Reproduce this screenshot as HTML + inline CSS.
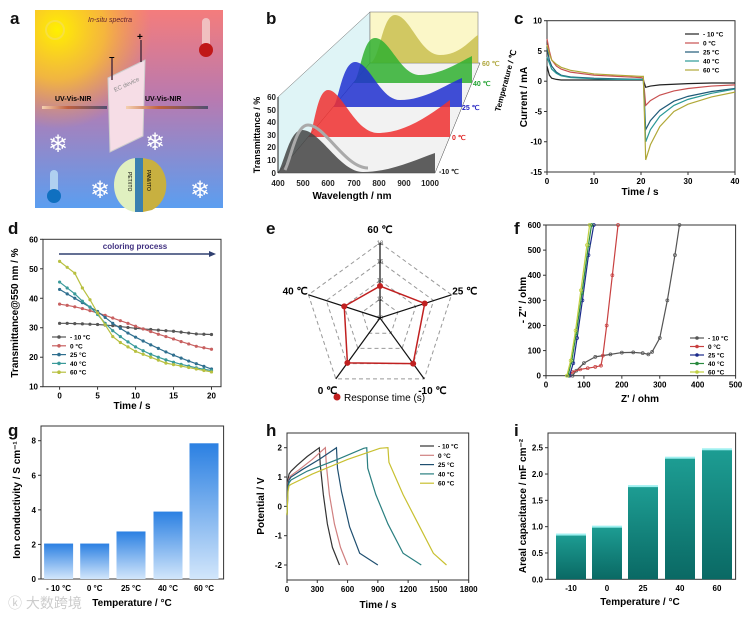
<!DOCTYPE html>
<html><head><meta charset="utf-8"><style>
html,body{margin:0;padding:0;background:#fff}
svg{display:block;font-family:"Liberation Sans",Arial,sans-serif}
</style></head><body>
<svg id="fig" width="750" height="618" viewBox="0 0 750 618" xmlns="http://www.w3.org/2000/svg">
<defs>
<linearGradient id="bgA" x1="0" y1="0" x2="0" y2="1"><stop offset="0" stop-color="#f47c7c"/><stop offset="0.45" stop-color="#b87ab0"/><stop offset="1" stop-color="#5b9ef0"/></linearGradient>
<radialGradient id="sun" cx="0.12" cy="0.1" r="0.5"><stop offset="0" stop-color="#fff000"/><stop offset="0.5" stop-color="#f8c030" stop-opacity="0.85"/><stop offset="1" stop-color="#f8a040" stop-opacity="0"/></radialGradient>
<linearGradient id="beam" x1="0" x2="1"><stop offset="0" stop-color="#f5d0b0"/><stop offset="0.4" stop-color="#c06040"/><stop offset="1" stop-color="#505070"/></linearGradient>
<linearGradient id="barG" x1="0" y1="0" x2="0" y2="1"><stop offset="0" stop-color="#2b80e2"/><stop offset="1" stop-color="#d2e6fb"/></linearGradient>
<linearGradient id="barI" x1="0" y1="0" x2="0" y2="1"><stop offset="0" stop-color="#1d9d93"/><stop offset="1" stop-color="#0a6964"/></linearGradient>
</defs>

<g font-weight="bold" font-size="17" fill="#111">
<text x="10" y="24">a</text>
<text x="266" y="24">b</text>
<text x="514" y="24">c</text>
<text x="8" y="234">d</text>
<text x="266" y="234">e</text>
<text x="514" y="234">f</text>
<text x="8" y="436">g</text>
<text x="266" y="436">h</text>
<text x="514" y="436">i</text>
</g>

<g>
<rect x="35" y="10" width="188" height="198" fill="url(#bgA)"/>
<rect x="35" y="10" width="188" height="198" fill="url(#sun)"/>
<g stroke="#f8e040" stroke-width="2" fill="none"><circle cx="55" cy="30" r="9"/></g>
<text x="88" y="22" font-size="7" font-style="italic" fill="#602030">In-situ spectra</text>
<rect x="202" y="18" width="8" height="30" rx="4" fill="#f0c0c0"/><circle cx="206" cy="50" r="7" fill="#c01818"/>
<rect x="50" y="170" width="8" height="25" rx="4" fill="#b0d0f0"/><circle cx="54" cy="196" r="7" fill="#1070c0"/>
<polygon points="108,78 145,60 143,136 110,152" fill="#f6dde6" stroke="#ccc"/>
<line x1="112" y1="58" x2="112" y2="80" stroke="#503040" stroke-width="1.5"/>
<line x1="141" y1="40" x2="141" y2="62" stroke="#503040" stroke-width="1.5"/>
<text x="109" y="60" font-size="10" font-weight="bold">–</text><text x="137" y="40" font-size="10" font-weight="bold">+</text>
<text x="115" y="92" font-size="6" fill="#888" transform="rotate(-25 115 92)">EC device</text>
<rect x="42" y="106" width="65" height="3" fill="url(#beam)"/><rect x="126" y="106" width="82" height="3" fill="url(#beam)"/>
<text x="55" y="101" font-size="7" font-weight="bold">UV-Vis-NIR</text><text x="145" y="101" font-size="7" font-weight="bold">UV-Vis-NIR</text>
<g font-size="24" fill="#fff"><text x="48" y="152">❄</text><text x="145" y="150">❄</text><text x="90" y="198">❄</text><text x="190" y="198">❄</text></g>
<ellipse cx="137" cy="185" rx="23" ry="27" fill="#e0f0c0"/>
<rect x="135" y="158" width="8" height="54" fill="#3a80b0"/><path d="M143,158 L152,160 A23,27 0 0 1 152,210 L143,212Z" fill="#c8b040"/>
<text x="128" y="172" font-size="5" transform="rotate(90 128 172)">PET/ITO</text><text x="147" y="170" font-size="5" transform="rotate(90 147 170)">PANI/ITO</text>
</g>

<g>
<polygon points="278,173 278,97 370,12 370,63" fill="#dff4f6" stroke="#666" stroke-width="0.5"/>
<rect x="370" y="12" width="108" height="51" fill="#fbf7c8" stroke="#666" stroke-width="0.5"/>
<polygon points="278,173 435,173 480,63 370,63" fill="#f2f2f2" stroke="#444" stroke-width="0.5"/>
<path d="M370,63 C380,60 382,15 395,15 C410,15 420,55 440,55 C460,55 470,40 478,35 L478,63Z" fill="#c9c050" opacity="0.85"/>
<path d="M353,83 C360,80 362,38 375,38 C390,38 400,75 420,75 C440,75 460,62 472,56 L472,83Z" fill="#30b030" opacity="0.85"/>
<path d="M333,107 C338,105 342,62 355,62 C370,62 380,100 400,100 C425,100 445,85 462,78 L462,107Z" fill="#2030d0" opacity="0.85"/>
<path d="M308,137 C314,135 316,90 328,90 C342,90 355,133 378,133 C405,133 430,115 450,100 L450,137Z" fill="#f03030" opacity="0.85"/>
<path d="M278,173 C285,160 290,130 302,130 C320,130 340,172 363,172 C390,172 415,160 435,153 L435,173Z" fill="#444" opacity="0.85"/>
<path d="M285,170 C292,155 296,125 308,125 C325,125 345,168 368,168" fill="none" stroke="#aaa" stroke-width="3"/>
<line x1="278" y1="97" x2="278" y2="173" stroke="#222"/>
<g font-size="8" font-weight="bold" text-anchor="end" fill="#222">
<text x="276" y="100">60</text><text x="276" y="113">50</text><text x="276" y="125">40</text><text x="276" y="138">30</text><text x="276" y="150">20</text><text x="276" y="163">10</text><text x="276" y="176">0</text></g>
<g font-size="8" font-weight="bold" text-anchor="middle" fill="#222">
<text x="278" y="186">400</text><text x="303" y="186">500</text><text x="328" y="186">600</text><text x="354" y="186">700</text><text x="379" y="186">800</text><text x="404" y="186">900</text><text x="430" y="186">1000</text></g>
<text x="352" y="199" font-size="10" font-weight="bold" text-anchor="middle">Wavelength / nm</text>
<text x="260" y="135" font-size="9" font-weight="bold" text-anchor="middle" transform="rotate(-90 260 135)">Transmittance / %</text>
<g font-size="7" font-weight="bold"><text x="439" y="174" fill="#222">-10 ℃</text><text x="452" y="140" fill="#e02020">0 ℃</text><text x="462" y="110" fill="#2020c0">25 ℃</text><text x="473" y="86" fill="#20a030">40 ℃</text><text x="482" y="66" fill="#b0a840">60 ℃</text></g>
<text x="500" y="112" font-size="8" font-weight="bold" transform="rotate(-75 500 112)">Temperature / ℃</text>
</g>

<g id="pc"></g>
<g id="pd"></g>
<g id="pe"></g>
<g id="pf"></g>
<g id="pg"></g>
<g id="ph"></g>
<g id="pi"></g>
<text x="8" y="608" font-size="14" fill="#ccc" font-family="'Liberation Sans','Noto Sans CJK SC',sans-serif">ⓚ 大数跨境</text>
</svg>
<script>
const NS='http://www.w3.org/2000/svg';
function mk(p,tag,a,txt){const e=document.createElementNS(NS,tag);for(const k in a)e.setAttribute(k,a[k]);if(txt!==undefined)e.textContent=txt;p.appendChild(e);return e;}
const tempLabels=['- 10 °C','0 °C','25 °C','40 °C','60 °C'];

const cTime=[0,0.5,1,2,3,5,10,15,20,20.5,21,22,24,27,30,35,40];
const cM10=[2.5,1.0,0.5,0.3,0.2,0.2,0.2,0.2,0.2,0.2,-1.0,-0.8,-0.6,-0.5,-0.4,-0.3,-0.3];
const c0=[7,5,3.5,2.5,2,1.5,1,0.8,0.6,0.5,-4,-3.2,-2.3,-1.6,-1.2,-0.8,-0.6];
const c25=[5.5,3.5,2.5,1.5,1,0.7,0.5,0.4,0.3,0.3,-8,-6.5,-4.8,-3.3,-2.5,-1.7,-1.2];
const c40=[4,3,2,1.3,0.9,0.6,0.4,0.3,0.3,0.3,-10,-8,-5.8,-4,-3,-2,-1.3];
const c60=[6,4.5,3.5,2.8,2.3,1.8,1.2,1,0.8,0.8,-13,-10.5,-7.5,-5,-3.8,-2.6,-1.8];
const cYTicks=[10,5,0,-5,-10,-15];const cXTicks=[0,10,20,30,40];
const dTime=[0,1,2,3,4,5,6,7,8,9,10,11,12,13,14,15,16,17,18,19,20];
const dM10=[31.5,31.5,31.4,31.3,31.2,31.1,30.9,30.7,30.4,30.1,29.8,29.6,29.4,29.2,29.0,28.8,28.5,28.2,27.9,27.8,27.7];
const d0=[38,37.6,37.1,36.5,35.8,35,34.2,33.3,32.4,31.5,30.5,29.6,28.7,27.8,27,26.2,25.3,24.5,23.7,23.2,22.7];
const d25=[43,41.5,40,38.5,37,35.5,33.5,31.5,29.8,28.2,26.8,25.5,24.2,23,21.8,20.7,19.7,18.7,17.8,16.9,16];
const d40=[45.5,43.5,41.5,39,37,34.5,31.5,29,27,25.2,23.5,22.2,21,20,19.1,18.3,17.6,17,16.4,15.9,15.5];
const d60=[52.5,50.5,48.5,43.5,39.5,35,31,27,25,23.5,22,21,20,19,18,17.5,17,16.5,16,15.5,15];
const dYTicks=[60,50,40,30,20,10];const dXTicks=[0,5,10,15,20];
const eAxes=['60 ℃','25 ℃','-10 ℃','0 ℃','40 ℃'];
const eValues=[13.4,15,16,15.9,14];
const eRings=[10,12,14,16,18];
const fM10x=[70,80,100,130,170,200,230,255,270,280,300,320,340,352];
const fM10y=[0,20,50,75,85,92,93,90,85,95,150,300,480,600];
const f0x=[60,70,90,110,130,145,150,160,175,190];
const f0y=[0,15,25,30,35,40,80,200,400,600];
const f25x=[62,72,82,96,112,126];const f25y=[0,50,150,300,480,600];
const f40x=[58,68,80,95,112,120];const f40y=[0,60,170,330,520,600];
const f60x=[55,65,78,92,108,115];const f60y=[0,60,180,340,520,600];
const fXTicks=[0,100,200,300,400,500];const fYTicks=[0,100,200,300,400,500,600];
const gCats=['- 10 °C','0 °C','25 °C','40 °C','60 °C'];
const gValues=[2.05,2.05,2.75,3.9,7.85];
const gYTicks=[0,2,4,6,8];
const hM10t=[0,10,20,40,100,200,320,330,360,400,450,520];
const hM10v=[-0.3,0.9,1.1,1.2,1.4,1.7,2.0,1.4,0.4,-0.6,-1.4,-2];
const h0t=[0,10,20,40,120,250,380,390,420,470,530,600];
const h0v=[-0.3,0.8,0.95,1.05,1.25,1.6,2.0,1.4,0.4,-0.6,-1.4,-2];
const h25t=[0,10,20,40,150,320,490,500,540,620,720,900];
const h25v=[-0.3,0.7,0.9,1.0,1.25,1.6,2.0,1.3,0.5,-0.7,-1.6,-2];
const h40t=[0,10,20,40,200,500,760,790,800,880,1000,1150,1330];
const h40v=[-0.3,0.6,0.8,0.9,1.2,1.6,1.98,2.0,1.3,0.4,-0.6,-1.6,-2];
const h60t=[0,10,20,40,250,600,920,1000,1010,1150,1300,1450,1580];
const h60v=[-0.3,0.5,0.7,0.75,1.1,1.6,1.98,2.0,1.5,0.4,-0.6,-1.6,-2];
const hXTicks=[0,300,600,900,1200,1500,1800];const hYTicks=[2,1,0,-1,-2];
const iCats=['-10','0','25','40','60'];
const iValues=[0.85,1.0,1.77,2.31,2.47];
const iYTicks=[0.0,0.5,1.0,1.5,2.0,2.5];

const seriesColors=['#222','#c85050','#1f5a78','#2a9896','#b0a838'];

function linScale(d0,d1,r0,r1){return v=>r0+(v-d0)*(r1-r0)/(d1-d0);}
function frame(g,x0,y0,x1,y1){const r=mk(g,'rect',{x:x0,y:y0,width:x1-x0,height:y1-y0,fill:'none',stroke:'#333','stroke-width':1});}
function xTicks(g,ticks,X,yb,fmt){ticks.forEach(t=>{mk(g,'line',{x1:X(t),x2:X(t),y1:yb,y2:yb+3,stroke:'#333'});const e=mk(g,'text',{x:X(t),y:yb+12,'font-size':8,'font-weight':'bold','text-anchor':'middle'},fmt?fmt(t):t);});}
function yTicks(g,ticks,Y,xl,fmt){ticks.forEach(t=>{mk(g,'line',{x1:xl-3,x2:xl,y1:Y(t),y2:Y(t),stroke:'#333'});const e=mk(g,'text',{x:xl-5,y:Y(t)+3,'font-size':8,'font-weight':'bold','text-anchor':'end'},fmt?fmt(t):t);});}
function title(g,x,y,txt,rot,size){const a={x:x,y:y,'font-size':size||10,'font-weight':'bold','text-anchor':'middle'};if(rot)a.transform='rotate(-90 '+x+' '+y+')';const e=mk(g,'text',a,txt);return e;}
function line(g,xs,ys,X,Y,col,w){const p=mk(g,'polyline',{points:xs.map((x,i)=>X(x)+','+Y(ys[i])).join(' '),fill:'none',stroke:col,'stroke-width':w||1.2});return p;}
function legend(g,x,y,dy,cols,marker){tempLabels.forEach((l,i)=>{const yy=y+i*dy;mk(g,'line',{x1:x,x2:x+14,y1:yy,y2:yy,stroke:cols[i],'stroke-width':1.2});if(marker)mk(g,'circle',{cx:x+7,cy:yy,r:1.8,fill:cols[i]});const e=mk(g,'text',{x:x+18,y:yy+2.5,'font-size':6.5,'font-weight':'bold'},l);});}

(function(){const g=document.getElementById('pc');const X=linScale(0,40,547,735),Y=linScale(10,-15,20.7,172);
frame(g,547,20.7,735,172);xTicks(g,cXTicks,X,172);yTicks(g,cYTicks,Y,547);
[cM10,c0,c25,c40,c60].forEach((s,i)=>line(g,cTime,s,X,Y,seriesColors[i]));
legend(g,685,34,9,seriesColors,false);title(g,640,195,'Time / s');title(g,527,97,'Current / mA',true);})();

(function(){const g=document.getElementById('pd');const X=linScale(0,20,59.6,211.5),Y=linScale(60,10,239.3,386.7);
frame(g,43,239.3,221,386.7);xTicks(g,dXTicks,X,386.7);yTicks(g,dYTicks,Y,43);
const cols=['#555','#c86060','#2f6f8f','#3a9a9a','#b8c040'];
[dM10,d0,d25,d40,d60].forEach((s,i)=>{line(g,dTime,s,X,Y,cols[i]);dTime.forEach((t,j)=>{const m=mk(g,'circle',{cx:X(t),cy:Y(s[j]),r:1.6,fill:cols[i]});});});
mk(g,'line',{x1:59,x2:213,y1:254,y2:254,stroke:'#304070','stroke-width':1.5});mk(g,'polygon',{points:'216,254 209,251 209,257',fill:'#304070'});
mk(g,'text',{x:135,y:249,'font-size':8,'font-weight':'bold','text-anchor':'middle',fill:'#403080'},'coloring process');
legend(g,52,337,8.8,cols,true);title(g,132,409,'Time / s');title(g,18,313,'Transmittance@550 nm / %',true);})();

(function(){const g=document.getElementById('pe');const cx=380,cy=318,R=v=>(v-10)*9.4;
const ang=eAxes.map((_,i)=>-Math.PI/2+i*2*Math.PI/5);
eRings.slice(1).forEach(r=>{mk(g,'polygon',{points:ang.map(a=>(cx+R(r)*Math.cos(a))+','+(cy+R(r)*Math.sin(a))).join(' '),fill:'none',stroke:'#999','stroke-dasharray':'4,3'});});
eRings.forEach(r=>mk(g,'text',{x:cx,y:cy-R(r)+2,'font-size':6,fill:'#666','text-anchor':'middle'},r));
ang.forEach((a,i)=>{mk(g,'line',{x1:cx,y1:cy,x2:cx+R(18)*Math.cos(a),y2:cy+R(18)*Math.sin(a),stroke:'#111','stroke-width':1.2});
const lx=cx+(R(18)+14)*Math.cos(a),ly=cy+(R(18)+14)*Math.sin(a)+4;const t=mk(g,'text',{x:lx,y:ly,'font-size':10,'font-weight':'bold','text-anchor':'middle'},eAxes[i]);});
const poly=mk(g,'polygon',{points:ang.map((a,i)=>(cx+R(eValues[i])*Math.cos(a))+','+(cy+R(eValues[i])*Math.sin(a))).join(' '),fill:'none',stroke:'#c02020','stroke-width':1.5});
ang.forEach((a,i)=>{const m=mk(g,'circle',{cx:cx+R(eValues[i])*Math.cos(a),cy:cy+R(eValues[i])*Math.sin(a),r:3,fill:'#c02020'});});
mk(g,'circle',{cx:337,cy:397,r:3.5,fill:'#c02020'});const lt=mk(g,'text',{x:344,y:401,'font-size':10},'Response time (s)');})();

(function(){const g=document.getElementById('pf');const X=linScale(0,500,546,735.6),Y=linScale(0,600,375.7,225);
frame(g,546,225,735.6,375.7);xTicks(g,fXTicks,X,375.7);yTicks(g,fYTicks,Y,546);
const cols=['#555','#c84040','#1a2a8a','#2a8a40','#c0d040'];
[[fM10x,fM10y],[f0x,f0y],[f25x,f25y],[f40x,f40y],[f60x,f60y]].forEach((s,i)=>{line(g,s[0],s[1],X,Y,cols[i]);s[0].forEach((x,j)=>{const m=mk(g,'circle',{cx:X(x),cy:Y(s[1][j]),r:1.5,fill:'none',stroke:cols[i],'stroke-width':0.7});});});
legend(g,690,338,8.5,cols,true);title(g,640,402,"Z' / ohm");title(g,526,300,"- Z'' / ohm",true);})();

(function(){const g=document.getElementById('pg');const Y=linScale(0,8,579,440.7);const xc=[58.6,94.7,131,168,204];
frame(g,41,426,223.6,579);yTicks(g,gYTicks,Y,41);
gValues.forEach((v,i)=>{const b=mk(g,'rect',{x:xc[i]-14.5,y:Y(v),width:29,height:579-Y(v),fill:'url(#barG)'});
const t=mk(g,'text',{x:xc[i],y:591,'font-size':8,'font-weight':'bold','text-anchor':'middle'},gCats[i]);});
title(g,132,606,'Temperature / °C');title(g,20,500,'Ion conductivity / S cm⁻¹',true);})();

(function(){const g=document.getElementById('ph');const X=linScale(0,1800,287,468.7),Y=linScale(2,-2,447.7,565);
frame(g,287,433,468.7,580);xTicks(g,hXTicks,X,580);yTicks(g,hYTicks,Y,287);
const cols=['#333','#d08080','#1f4f70','#2a7f80','#c8c030'];
[[hM10t,hM10v],[h0t,h0v],[h25t,h25v],[h40t,h40v],[h60t,h60v]].forEach((s,i)=>line(g,s[0],s[1],X,Y,cols[i]));
legend(g,420,446,9.3,cols,false);title(g,378,608,'Time / s');title(g,264,506,'Potential / V',true);})();

(function(){const g=document.getElementById('pi');const Y=linScale(0,2.5,579.3,447.7);const xc=[571,607,643,680,717];
frame(g,548,433,735.6,579.3);yTicks(g,iYTicks,Y,548,t=>t.toFixed(1));
iValues.forEach((v,i)=>{const b=mk(g,'rect',{x:xc[i]-15,y:Y(v),width:30,height:579.3-Y(v),fill:'url(#barI)'});
mk(g,'rect',{x:xc[i]-15,y:Y(v)-1,width:30,height:2,fill:'#9ff0f0'});
const t=mk(g,'text',{x:xc[i],y:591,'font-size':8,'font-weight':'bold','text-anchor':'middle'},iCats[i]);});
title(g,640,605,'Temperature / °C');title(g,526,506,'Areal capacitance / mF cm⁻²',true);})();
</script>
</body></html>
